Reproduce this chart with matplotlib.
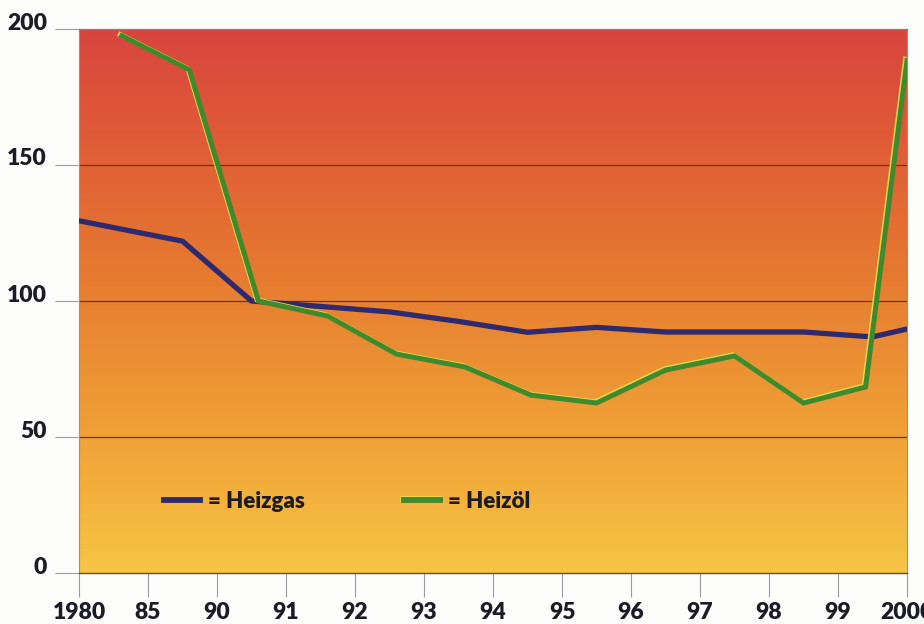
import numpy as np
import matplotlib
matplotlib.use("Agg")
import matplotlib.pyplot as plt
from matplotlib.colors import LinearSegmentedColormap
import matplotlib.patheffects as pe
import matplotlib.transforms as mtrans

# ---- data ----
categories = ["1980", "85", "90", "91", "92", "93", "94", "95", "96", "97", "98", "99", "2000"]
y_ticks = [0, 50, 100, 150, 200]

gas_x = [0, 1.5, 2.5, 3.5, 4.5, 5.5, 6.5, 7.5, 8.5, 9.5, 10.5, 11.5, 12]
gas_y = [129.5, 122, 100, 98, 96, 92.5, 88.5, 90.3, 88.6, 88.6, 88.6, 86.8, 89.7]

oil_x = [0.62, 1.6, 2.6, 3.6, 4.6, 5.6, 6.55, 7.5, 8.5, 9.5, 10.5, 11.4, 12]
oil_y = [197.5, 185, 100, 94.5, 80.5, 75.7, 65.4, 62.5, 74.6, 79.8, 62.5, 68.4, 188.5]

series_labels = ["= Heizgas", "= Heizöl"]
gas_color = "#2f2a6e"
oil_color = "#3f8a2c"

plt.rcParams['font.family'] = ['Lato', 'DejaVu Sans']
FS = 16.5
WEIGHT = "heavy"
TXT = "#1c1c28"

fig = plt.figure(figsize=(9.24, 6.24), dpi=100)
fig.patch.set_facecolor("#fdfdfb")
ax = fig.add_axes([79/924, 51/624, 828/924, 544/624])

xmin, xmax = 0, len(categories) - 1
ymin, ymax = 0, 200
ax.set_xlim(xmin, xmax)
ax.set_ylim(ymin, ymax)

# gradient background
cmap = LinearSegmentedColormap.from_list(
    "bg", [(0.0, "#f6c545"), (0.25, "#f0a237"), (0.55, "#e67a30"), (0.8, "#e05b37"), (1.0, "#d8453e")])
grad = np.linspace(0, 1, 256).reshape(-1, 1)
ax.imshow(grad, extent=[xmin, xmax, ymin, ymax], origin="lower", aspect="auto",
          cmap=cmap, zorder=0, interpolation="bicubic")

# gridlines
for v in y_ticks[1:-1]:
    ax.axhline(v, color="#6a3418", lw=0.9, zorder=1)

ax.plot(gas_x, gas_y, color=gas_color, lw=3.8, zorder=3, solid_joinstyle="miter",
        label=series_labels[0])
ax.plot(oil_x, oil_y, color=oil_color, lw=3.6, zorder=4, solid_joinstyle="miter",
        label=series_labels[1],
        path_effects=[pe.SimpleLineShadow(offset=(-1.0, 0.8), shadow_color="#e9d64a", alpha=1.0),
                      pe.Normal()])

# spines
for s in ["left", "right"]:
    ax.spines[s].set_color("#9090a0")
    ax.spines[s].set_linewidth(0.8)
ax.spines["top"].set_color("#8a78b0")
ax.spines["top"].set_linewidth(0.9)
ax.spines["bottom"].set_color("#6a4a20")
ax.spines["bottom"].set_linewidth(1.0)

# ticks
ax.set_xticks(range(len(categories)))
ax.set_xticklabels(categories)
ax.set_yticks(y_ticks)
ax.set_yticklabels([str(v) for v in y_ticks])
ax.tick_params(axis="x", length=17, width=0.8, color="#9a9aa6", pad=4,
               labelsize=FS, labelcolor=TXT)
ax.tick_params(axis="y", length=17, width=0.8, color="#9a9aa6", pad=6,
               labelsize=FS, labelcolor=TXT)
for t in ax.get_xticklabels() + ax.get_yticklabels():
    t.set_fontweight(WEIGHT)
off = mtrans.ScaledTranslation(0, 8/100, fig.dpi_scale_trans)
for t in ax.get_yticklabels():
    t.set_transform(t.get_transform() + off)

leg = ax.legend(loc="center left", bbox_to_anchor=(0.103, 0.132), ncol=2, frameon=False,
                handlelength=1.6, handletextpad=0.35, columnspacing=4.5,
                borderpad=0, borderaxespad=0, prop={"weight": WEIGHT, "size": 16})
for t in leg.get_texts():
    t.set_color(TXT)
for h in leg.get_lines():
    h.set_linewidth(4.2)

fig.savefig("out.png", dpi=100, facecolor=fig.get_facecolor())
